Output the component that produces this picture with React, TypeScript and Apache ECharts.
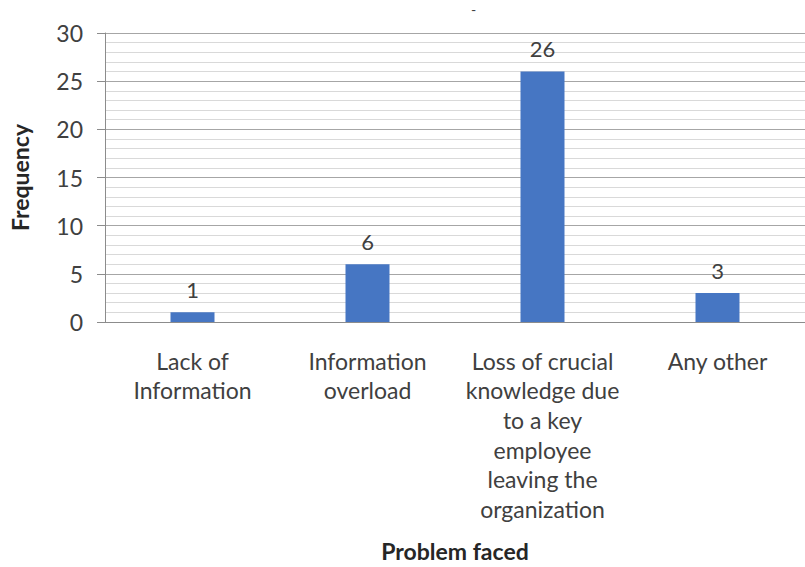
import React, { useEffect, useRef } from "react";
import * as echarts from "echarts";

const categories = [
  "Lack of\nInformation",
  "Information\noverload",
  "Loss of crucial\nknowledge due\nto a key\nemployee\nleaving the\norganization",
  "Any other",
];
const frequencies = [1, 6, 26, 3];
const yMin = 0;
const yMax = 30;
const yStep = 5;

const FONT = "Lato, 'Open Sans', sans-serif";

export default function App() {
  const ref = useRef<HTMLDivElement>(null);

  useEffect(() => {
    if (!ref.current) return;
    const chart = echarts.init(ref.current, undefined, { renderer: "svg" });
    chart.setOption({
      animation: false,
      backgroundColor: "#ffffff",
      title: {
        text: "-",
        left: 466,
        top: -3,
        textStyle: { fontSize: 14, color: "#404040", fontFamily: FONT, fontWeight: "normal" },
      },
      grid: { left: 105, right: 0, top: 33, height: 290, containLabel: false },
      xAxis: {
        type: "category",
        data: categories,
        name: "Problem faced",
        nameLocation: "middle",
        nameGap: 217,
        nameTextStyle: { fontSize: 23, fontWeight: "bold", color: "#262626", fontFamily: FONT },
        axisLine: { show: true, lineStyle: { color: "#8c8c8c", width: 1 } },
        axisTick: { show: false },
        axisLabel: {
          interval: 0,
          margin: 24,
          fontSize: 23,
          lineHeight: 29.6,
          color: "#404040",
          fontFamily: FONT,
          verticalAlign: "top",
        },
      },
      yAxis: {
        type: "value",
        min: yMin,
        max: yMax,
        interval: yStep,
        name: "Frequency",
        nameLocation: "middle",
        nameGap: 74,
        nameRotate: 90,
        nameTextStyle: { fontSize: 23, fontWeight: "bold", color: "#262626", fontFamily: FONT },
        axisLine: { show: true, lineStyle: { color: "#8c8c8c", width: 1 } },
        axisTick: { show: true, length: 8, lineStyle: { color: "#8c8c8c" } },
        axisLabel: { fontSize: 23, color: "#404040", fontFamily: FONT, margin: 22 },
        splitLine: { show: true, lineStyle: { color: "#a6a6a6", width: 1 } },
        minorTick: { show: false, splitNumber: 5 },
        minorSplitLine: { show: true, lineStyle: { color: "#d9d9d9", width: 1 } },
      },
      series: [
        {
          type: "bar",
          data: frequencies,
          barWidth: 44,
          itemStyle: { color: "#4676c3" },
          label: {
            show: true,
            position: "top",
            distance: 12,
            fontSize: 22,
            color: "#404040",
            fontFamily: FONT,
          },
        },
      ],
    });
    return () => chart.dispose();
  }, []);

  return (
    <div
      ref={ref}
      style={{ position: "fixed", left: 0, top: 0, width: 805, height: 567 }}
    />
  );
}
